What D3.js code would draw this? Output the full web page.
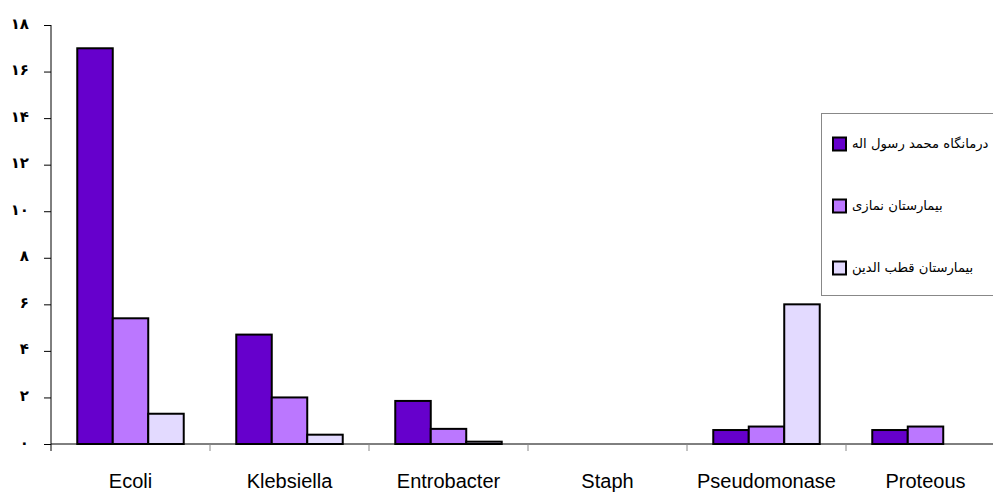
<!DOCTYPE html>
<html lang="fa">
<head>
    <meta charset="UTF-8">
    <title>Bar Chart</title>
    <script src="https://d3js.org/d3.v7.min.js"></script>
    <style>
        body { margin: 0; background: #fff; overflow: hidden; }
        svg { display: block; }
    </style>
</head>
<body>
<svg id="chart" width="993" height="493"></svg>
<script>
    // categories and series
    const categories = ["Ecoli", "Klebsiella", "Entrobacter", "Staph", "Pseudomonase", "Proteous"];
    const seriesNames = ["درمانگاه محمد رسول اله", "بیمارستان نمازی", "بیمارستان قطب الدین"];
    const rasoolValues = [17.0, 4.7, 1.85, 0, 0.6, 0.6];
    const namaziValues = [5.4, 2.0, 0.65, 0, 0.75, 0.75];
    const qotbValues = [1.3, 0.4, 0.1, 0, 6.0, 0];
    const yTicks = [0, 2, 4, 6, 8, 10, 12, 14, 16, 18];
    const colors = ["#6600CC", "#BB77FF", "#E3DAFF"];

    const series = [rasoolValues, namaziValues, qotbValues];

    const margin = {top: 25, left: 51, bottom: 444};
    const plotRight = 1005;

    const svg = d3.select("#chart");

    const x0 = d3.scaleBand()
        .domain(categories)
        .range([margin.left, plotRight])
        .paddingInner(0)
        .paddingOuter(0);

    const x1 = d3.scaleBand()
        .domain(d3.range(seriesNames.length))
        .range([0, x0.bandwidth()])
        .paddingInner(0)
        .paddingOuter(0.74);

    const y = d3.scaleLinear()
        .domain([0, 18])
        .range([margin.bottom, margin.top]);

    const faDigits = n => String(n).replace(/\d/g, c => "۰۱۲۳۴۵۶۷۸۹"[+c]);

    // y axis
    const yAxis = svg.append("g")
        .attr("transform", `translate(${margin.left},0)`)
        .call(d3.axisLeft(y).tickValues(yTicks).tickSize(7).tickFormat(faDigits));
    yAxis.select(".domain").attr("stroke", "#000").attr("d", `M0,${margin.top}V${margin.bottom + 7}`);
    yAxis.selectAll(".tick line").attr("stroke", "#000");
    yAxis.selectAll(".tick text")
        .attr("x", -22)
        .attr("dy", "0.2em")
        .attr("fill", "#000")
        .style("font", "bold 15px 'DejaVu Sans', sans-serif");

    // bars
    const groups = svg.append("g")
        .selectAll("g")
        .data(categories)
        .join("g")
        .attr("transform", d => `translate(${x0(d)},0)`);

    groups.selectAll("rect")
        .data((d, i) => series.map((s, k) => ({k, v: s[i]})).filter(d => d.v > 0))
        .join("rect")
        .attr("x", d => x1(d.k))
        .attr("y", d => y(d.v))
        .attr("width", x1.bandwidth())
        .attr("height", d => y(0) - y(d.v))
        .attr("fill", d => colors[d.k])
        .attr("stroke", "#000")
        .attr("stroke-width", 2);

    // x axis
    svg.append("line")
        .attr("x1", margin.left).attr("x2", plotRight)
        .attr("y1", y(0)).attr("y2", y(0))
        .attr("stroke", "#000");

    svg.append("g")
        .selectAll("line")
        .data(categories.slice(1))
        .join("line")
        .attr("x1", d => x0(d)).attr("x2", d => x0(d))
        .attr("y1", y(0)).attr("y2", y(0) + 7)
        .attr("stroke", "#888");

    svg.append("g")
        .selectAll("text")
        .data(categories)
        .join("text")
        .attr("x", d => x0(d) + x0.bandwidth() / 2)
        .attr("y", 488)
        .attr("text-anchor", "middle")
        .style("font", "20px 'Liberation Sans', Arial, sans-serif")
        .text(d => d);

    // legend
    const legend = svg.append("g");
    legend.append("rect")
        .attr("x", 821.5).attr("y", 113.5)
        .attr("width", 200).attr("height", 182)
        .attr("fill", "#fff")
        .attr("stroke", "#888");

    const items = legend.selectAll("g.item")
        .data(seriesNames)
        .join("g")
        .attr("class", "item")
        .attr("transform", (d, i) => `translate(833,${144 + i * 62})`);

    items.append("rect")
        .attr("x", 0).attr("y", -6.5)
        .attr("width", 13).attr("height", 13)
        .attr("fill", (d, i) => colors[i])
        .attr("stroke", "#000")
        .attr("stroke-width", 2);

    items.append("text")
        .attr("x", 19)
        .attr("y", 4)
        .attr("direction", "rtl")
        .attr("text-anchor", "end")
        .style("font", "13.2px 'DejaVu Sans', serif")
        .text(d => d);
</script>
</body>
</html>
